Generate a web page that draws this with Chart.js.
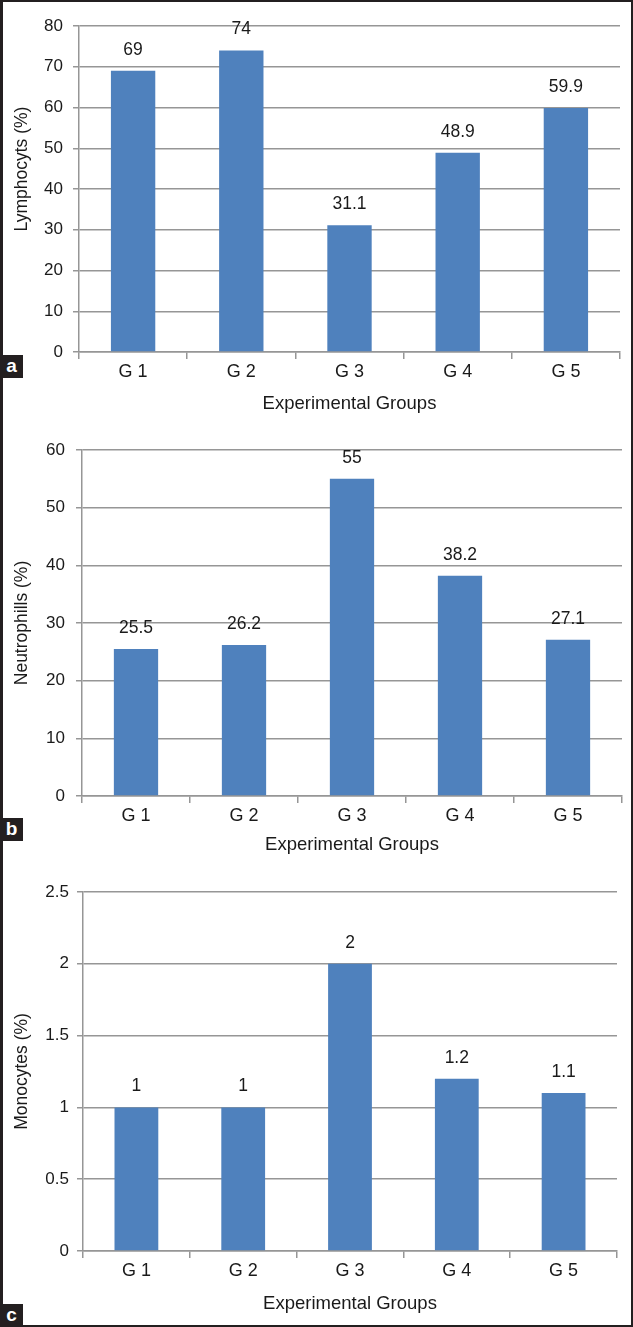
<!DOCTYPE html>
<html>
<head>
<meta charset="utf-8">
<script src="https://cdn.jsdelivr.net/npm/chart.js@4.4.1/dist/chart.umd.min.js"></script>
<style>
  html, body { margin: 0; padding: 0; background: #fff; }
  #page { position: relative; width: 633px; height: 1327px; overflow: hidden; background: #fff; }
  .panel { position: absolute; left: 0; width: 633px; }
  .frame { position: absolute; left: 0; top: 0; width: 633px; height: 1327px; box-sizing: border-box;
           border: 2px solid #231f20; border-left-width: 3px; pointer-events: none; }
  .tag { position: absolute; left: 0; width: 23px; height: 23px; background: #231f20; color: #fff;
         font: bold 19px "Liberation Sans", Arial, sans-serif; text-align: center; line-height: 22px; }
</style>
</head>
<body>
<div id="page">
  <div class="panel" style="top:0;height:420px"><canvas id="chart-a"></canvas></div>
  <div class="panel" style="top:420px;height:440px"><canvas id="chart-b"></canvas></div>
  <div class="panel" style="top:860px;height:467px"><canvas id="chart-c"></canvas></div>
  <div class="frame"></div>
  <div class="tag" style="top:355px">a</div>
  <div class="tag" style="top:818px">b</div>
  <div class="tag" style="top:1304px">c</div>
</div>
<script>
var groups = ["G 1", "G 2", "G 3", "G 4", "G 5"];

var lymphocytes = [69, 74, 31.1, 48.9, 59.9];
var neutrophils = [25.5, 26.2, 55, 38.2, 27.1];
var monocytes = [1, 1, 2, 1.2, 1.1];

var ticksA = ["0", "10", "20", "30", "40", "50", "60", "70", "80"];
var ticksB = ["0", "10", "20", "30", "40", "50", "60"];
var ticksC = ["0", "0.5", "1", "1.5", "2", "2.5"];

var FONT = '"Liberation Sans", Arial, sans-serif';
var BLUE = "#4f81bd";
var GRID = "#969696";

// draws the value above every bar
var valueLabels = {
    id: "valueLabels",
    afterDatasetsDraw: function (chart) {
        var ctx = chart.ctx;
        var ds = chart.data.datasets[0];
        ctx.save();
        ctx.font = "17.5px " + FONT;
        ctx.fillStyle = "#1a1a1a";
        ctx.textAlign = "center";
        ctx.textBaseline = "middle";
        chart.getDatasetMeta(0).data.forEach(function (bar, i) {
            ctx.fillText(String(ds.data[i]), bar.x, bar.y - 21);
        });
        ctx.restore();
    }
};

// rotated y axis title, the Excel original is not always centred on the plot
var yTitle = {
    id: "yTitle",
    afterDraw: function (chart, args, opts) {
        var ctx = chart.ctx;
        var area = chart.chartArea;
        ctx.save();
        ctx.font = "17.5px " + FONT;
        ctx.fillStyle = "#1a1a1a";
        ctx.textAlign = "center";
        ctx.textBaseline = "middle";
        ctx.translate(22, (area.top + area.bottom) / 2 + opts.shift);
        ctx.rotate(-Math.PI / 2);
        ctx.fillText(opts.text, 0, 0);
        ctx.restore();
    }
};

function makeChart(id, values, tickLabels, max, step, title, p) {
    new Chart(document.getElementById(id), {
        type: 'bar',
        data: {
            labels: groups,
            datasets: [
                {
                    data: values,
                    backgroundColor: BLUE,
                    barPercentage: 0.41,
                    categoryPercentage: 1
                }
            ]
        },
        options: {
            responsive: true,
            maintainAspectRatio: false,
            animation: false,
            events: [],
            layout: {
                padding: { top: p.top, right: p.right, left: 0, bottom: 0 }
            },
            plugins: {
                legend: { display: false },
                tooltip: { enabled: false },
                yTitle: { text: title, shift: p.titleShift }
            },
            scales: {
                x: {
                    offset: true,
                    grid: { offset: true, drawOnChartArea: false, drawTicks: true, tickLength: 7, color: GRID, lineWidth: 1.5 },
                    border: { display: true, color: GRID, width: 1.5 },
                    ticks: { color: "#1a1a1a", font: { family: FONT, size: 18 }, padding: 2, maxRotation: 0 },
                    title: { display: true, text: "Experimental Groups", color: "#1a1a1a",
                             font: { family: FONT, size: 18.5 }, padding: { top: 0, bottom: p.titleBottom } },
                    afterFit: function (scale) { scale.height = p.xHeight; }
                },
                y: {
                    min: 0,
                    max: max,
                    grid: { color: GRID, lineWidth: 1.5, drawTicks: true, tickLength: 6 },
                    border: { display: true, color: GRID, width: 1.5 },
                    ticks: {
                        stepSize: step,
                        color: "#1a1a1a",
                        font: { family: FONT, size: 17 },
                        padding: p.tickPad,
                        callback: function (v, i) { return tickLabels[i]; }
                    },
                    afterFit: function (scale) { scale.width = p.yWidth; }
                }
            }
        },
        plugins: [valueLabels, yTitle]
    });
}

makeChart("chart-a", lymphocytes, ticksA, 80, 10, "Lymphocyts (%)",
    { top: 26, right: 13, yWidth: 79, xHeight: 68, titleBottom: 5, tickPad: 10, titleShift: -20 });
makeChart("chart-b", neutrophils, ticksB, 60, 10, "Neutrophills (%)",
    { top: 30, right: 11, yWidth: 82, xHeight: 64, titleBottom: 4, tickPad: 11, titleShift: 0 });
makeChart("chart-c", monocytes, ticksC, 2.5, 0.5, "Monocytes (%)",
    { top: 32, right: 16, yWidth: 83, xHeight: 76, titleBottom: 12, tickPad: 8, titleShift: 0 });
</script>
</body>
</html>
